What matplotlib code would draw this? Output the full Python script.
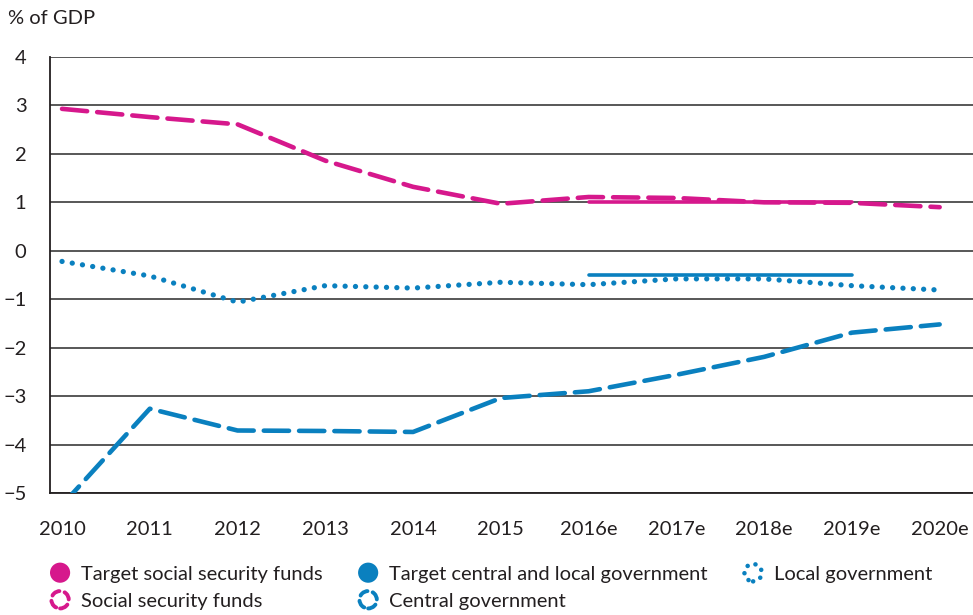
import matplotlib
matplotlib.use("Agg")
import matplotlib.pyplot as plt
from matplotlib.lines import Line2D
from matplotlib.patches import Circle
from matplotlib.legend_handler import HandlerBase

plt.rcParams['font.family'] = ['Lato', 'DejaVu Sans']

years = ["2010", "2011", "2012", "2013", "2014", "2015", "2016e", "2017e", "2018e", "2019e", "2020e"]
social_security = [2.93, 2.76, 2.61, 1.86, 1.32, 0.97, 1.11, 1.09, 1.00, 0.99, 0.90]
central_gov = [-5.25, -3.26, -3.71, -3.72, -3.74, -3.04, -2.9, -2.56, -2.19, -1.69, -1.52]
local_gov = [-0.22, -0.52, -1.06, -0.72, -0.77, -0.65, -0.70, -0.58, -0.58, -0.72, -0.81]
target_years = ["2016e", "2017e", "2018e", "2019e"]
target_ss = [1.0, 1.0, 1.0, 1.0]
target_cl = [-0.5, -0.5, -0.5, -0.5]
yticks = [4, 3, 2, 1, 0, -1, -2, -3, -4, -5]

PINK = '#d6188c'
BLUE = '#0a80bf'
FS = 14.5

fig = plt.figure(figsize=(9.73, 6.15), dpi=100)
ax = fig.add_axes([50/973, (615-493)/615, 1 - 50/973, (493-57)/615])

x = list(range(len(years)))
tx = [years.index(y) for y in target_years]

for yv in yticks:
    ax.axhline(yv, color='#4a4a4a', lw=1.3, zorder=1)

ax.plot(tx, target_ss, color=PINK, lw=2.6, solid_capstyle='round', zorder=3)
ax.plot(tx, target_cl, color=BLUE, lw=2.6, solid_capstyle='round', zorder=3)
ax.plot(x, social_security, color=PINK, lw=3.3, linestyle=(0, (5.5, 2.2)), dash_capstyle='round', zorder=4)
ax.plot(x, central_gov, color=BLUE, lw=3.3, linestyle=(0, (5.5, 2.2)), dash_capstyle='round', zorder=4)
ax.plot(x, local_gov, color=BLUE, lw=3.8, linestyle=(0, (0.01, 1.95)), dash_capstyle='round', zorder=4)

ax.set_xlim(-0.137, 10.38)
ax.set_ylim(-5, 4)
ax.set_xticks(x)
ax.set_xticklabels(years)
ax.set_yticks(yticks)
ax.tick_params(axis='both', length=0, labelsize=FS, colors='#231f20')
ax.tick_params(axis='x', pad=20)
ax.tick_params(axis='y', pad=17)
for s in ['top', 'right']:
    ax.spines[s].set_visible(False)
for s in ['left', 'bottom']:
    ax.spines[s].set_color('#231f20')
    ax.spines[s].set_linewidth(1.3)

fig.text(8/973, 1 - 18/615, "% of GDP", fontsize=FS, color='#231f20', va='center', ha='left')


class RingHandler(HandlerBase):
    def __init__(self, color, ls, lw):
        super().__init__()
        self.color = color
        self.ls = ls
        self.lw = lw

    def create_artists(self, legend, orig_handle, xdescent, ydescent, width, height, fontsize, trans):
        cx = width / 2 - xdescent
        cy = height / 2 - ydescent
        c = Circle((cx, cy), radius=height * 0.5, facecolor='none', edgecolor=self.color,
                   linestyle=self.ls, lw=self.lw, transform=trans)
        c.set_capstyle('round')
        return [c]


class DotHandler(HandlerBase):
    def __init__(self, color):
        super().__init__()
        self.color = color

    def create_artists(self, legend, orig_handle, xdescent, ydescent, width, height, fontsize, trans):
        cx = width / 2 - xdescent
        cy = height / 2 - ydescent
        c = Circle((cx, cy), radius=height * 0.58, facecolor=self.color, edgecolor='none', transform=trans)
        return [c]


h_tss = Line2D([], [], color=PINK)
h_ss = Line2D([], [], color=PINK, ls='--')
h_tcl = Line2D([], [], color=BLUE)
h_cg = Line2D([], [], color=BLUE, ls='--')
h_lg = Line2D([], [], color=BLUE, ls=':')

handles = [h_tss, h_ss, h_tcl, h_cg, h_lg]
labels = ["Target social security funds", "Social security funds",
          "Target central and local government", "Central government", "Local government"]
hmap = {
    h_tss: DotHandler(PINK),
    h_ss: RingHandler(PINK, (0, (2.2, 1.4)), 2.8),
    h_tcl: DotHandler(BLUE),
    h_cg: RingHandler(BLUE, (0, (2.2, 1.4)), 2.8),
    h_lg: RingHandler(BLUE, (0, (0.01, 1.8)), 3.3),
}
leg = fig.legend(handles, labels, handler_map=hmap, ncol=3, loc='upper left',
                 bbox_to_anchor=(50/973, 1 - 564/615), frameon=False, fontsize=FS,
                 handlelength=1.0, handleheight=0.95, handletextpad=0.55, columnspacing=1.75,
                 labelspacing=0.42, borderpad=0, borderaxespad=0)
for t in leg.get_texts():
    t.set_color('#231f20')

fig.savefig("out.png", dpi=100)
